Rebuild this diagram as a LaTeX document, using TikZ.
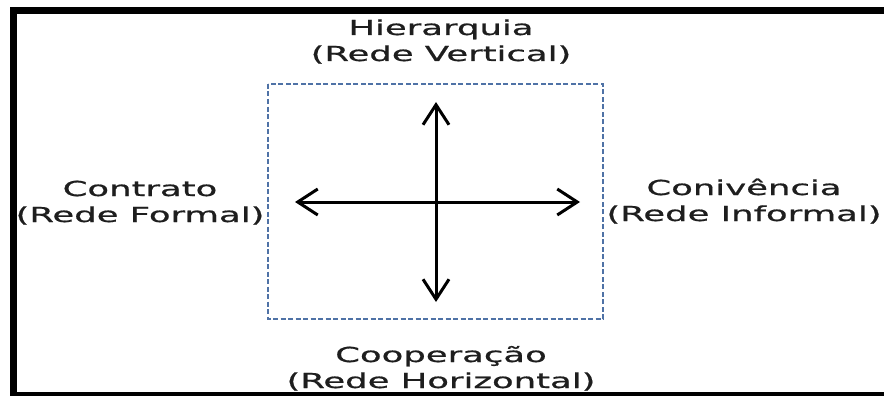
\documentclass[tikz,border=0pt]{standalone}
\usepackage{fontspec}
\setmainfont[FakeStretch=1.72,FakeBold=0.8]{DejaVu Sans}
\usetikzlibrary{arrows.meta}
\definecolor{dashblue}{RGB}{79,114,166}
\definecolor{txt}{RGB}{30,30,30}
\tikzset{
  lbl/.style={anchor=base, inner sep=0pt, text=txt, font=\fontsize{20.6}{26}\selectfont},
  dbox/.style={draw=dashblue, line width=2.6pt, dash pattern=on 5pt off 2.5pt},
  axis/.style={draw=black, line width=3pt, {Straight Barb[length=20pt,width=26pt]}-{Straight Barb[length=20pt,width=26pt]}},
  frame/.style={draw=black, line width=7pt}
}
\begin{document}
\begin{tikzpicture}[x=1pt,y=-1pt]
\useasboundingbox (0,0) rectangle (884,396);
\clip (0,0) rectangle (884,396);
\fill[white] (0,0) rectangle (884,396);
\draw[dbox] (268,84) rectangle (603,319);
\coordinate (c) at (436,202);
\coordinate (t) at (436,102);
\coordinate (b) at (436,302);
\coordinate (l) at (295,202);
\coordinate (r) at (580,202);
\draw[axis] (t) -- (b);
\draw[axis] (l) -- (r);
\node[lbl] (top) at (441,35) {\begin{tabular}[t]{@{}c@{}}Hierarquia\\(Rede Vertical)\end{tabular}};
\node[lbl] (left) at (140,196) {\begin{tabular}[t]{@{}c@{}}Contrato\\(Rede Formal)\end{tabular}};
\node[lbl] (right) at (744,195) {\begin{tabular}[t]{@{}c@{}}Conivência\\(Rede Informal)\end{tabular}};
\node[lbl] (bottom) at (441,362) {\begin{tabular}[t]{@{}c@{}}Cooperação\\(Rede Horizontal)\end{tabular}};
\draw[frame] (13.5,11) rectangle (900,395.5);
\end{tikzpicture}
\end{document}
